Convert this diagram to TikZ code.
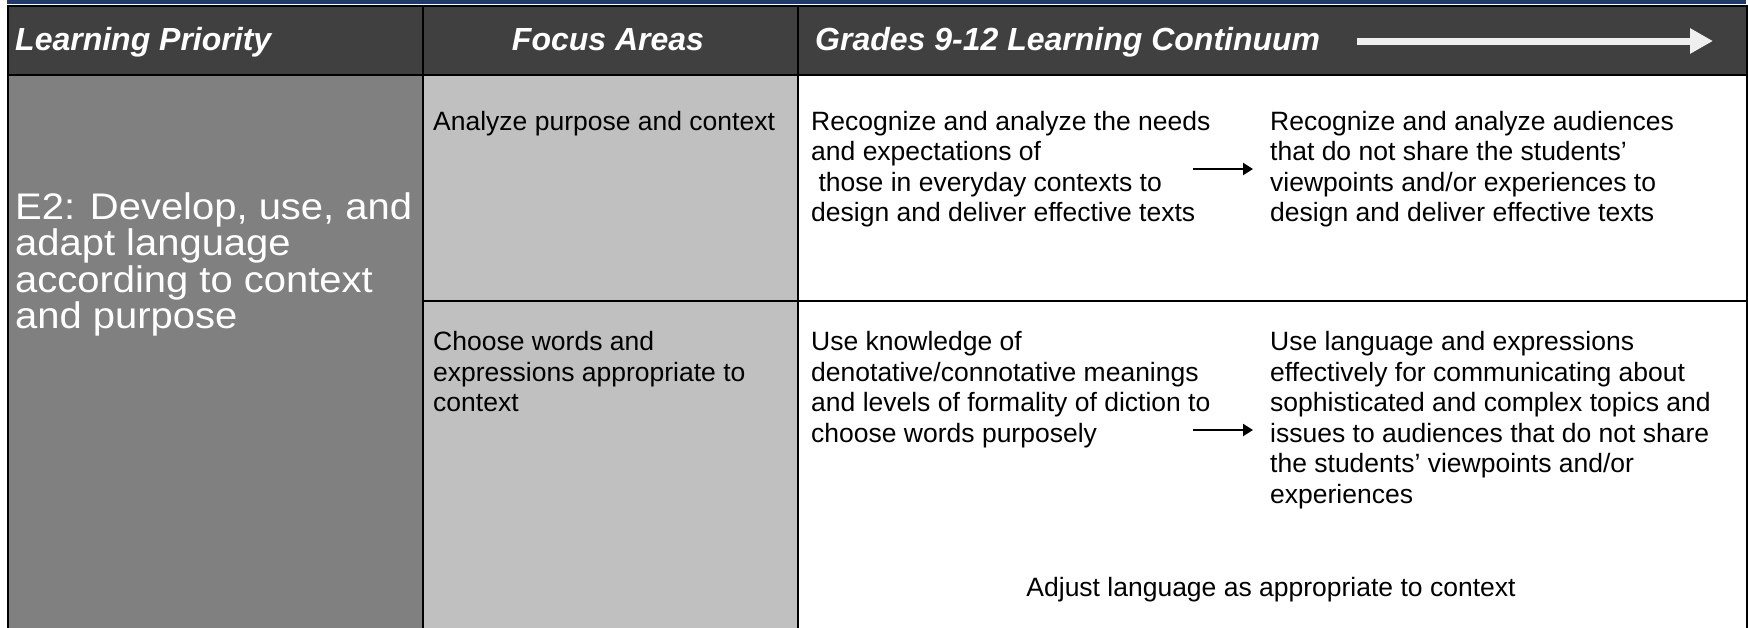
\documentclass[tikz,border=0pt]{standalone}
\usepackage{fontspec}
\setmainfont{Liberation Sans}
\newfontfamily\prifont[FakeStretch=1.08]{Liberation Sans}
\usetikzlibrary{arrows.meta}
\definecolor{hdrgray}{HTML}{404040}
\definecolor{prigray}{HTML}{808080}
\definecolor{focgray}{HTML}{C0C0C0}
\definecolor{topblue}{RGB}{31,57,107}
\definecolor{harrow}{HTML}{EFEFEF}
\begin{document}
\begin{tikzpicture}[x=1pt,y=-1pt,
  cell/.style={rectangle,draw=black,line width=2pt,inner sep=0pt,anchor=north west},
  hdrtext/.style={text=white,font=\fontsize{32}{36}\selectfont\bfseries\itshape,inner sep=0pt},
  body/.style={anchor=north west,inner sep=0pt,align=left,font=\fontsize{26.5}{30.5}\selectfont},
  pritext/.style={anchor=north west,inner sep=0pt,align=left,text=white,font=\prifont\fontsize{37}{36.5}\selectfont},
  hdrarrow/.style={draw=harrow,line width=7pt,-{Triangle[length=23pt,width=24pt]}},
  flowarrow/.style={draw=black,line width=2.2pt,-{Triangle[length=10pt,width=12pt]}}
]
\useasboundingbox (0,0) rectangle (1748,627);
\fill[topblue] (7,0) rectangle (1746,4);
% header cells
\node[cell,fill=hdrgray,minimum width=415pt,minimum height=69pt] (h1) at (7,4.5) {};
\node[cell,fill=hdrgray,minimum width=375pt,minimum height=69pt] (h2) at (422,4.5) {};
\node[cell,fill=hdrgray,minimum width=949pt,minimum height=69pt] (h3) at (797,4.5) {};
% body cells
\node[cell,fill=prigray,minimum width=415pt,minimum height=560pt] (pri) at (7,73.5) {};
\node[cell,fill=focgray,minimum width=375pt,minimum height=226.5pt] (foc1) at (422,73.5) {};
\node[cell,fill=focgray,minimum width=375pt,minimum height=333pt] (foc2) at (422,300) {};
\node[cell,fill=white,minimum width=949pt,minimum height=226.5pt] (con1) at (797,73.5) {};
\node[cell,fill=white,minimum width=949pt,minimum height=333pt] (con2) at (797,300) {};
% header texts
\node[hdrtext,anchor=base west] (t1) at (15,50.5) {Learning Priority};
\node[hdrtext,anchor=base] (t2) at (608,50.5) {Focus Areas};
\node[hdrtext,anchor=base west] (t3) at (815,50.5) {Grades 9-12 Learning Continuum};
\coordinate (ha1) at (1357,41);
\coordinate (ha2) at (1713,41);
\draw[hdrarrow] (ha1) -- (ha2);
% learning priority
\node[pritext] (p1) at (15,192) {E2: Develop, use, and\\adapt language\\according to context\\and purpose};
% focus areas
\node[body] (f1) at (433,111) {Analyze purpose and context};
\node[body] (f2) at (433,331.5) {Choose words and\\expressions appropriate to\\context};
% row 1
\node[body] (r1a) at (811,111) {Recognize and analyze the needs\\and expectations of\\\hspace*{.28em}those in everyday contexts to\\design and deliver effective texts};
\node[body] (r1b) at (1270,111) {Recognize and analyze audiences\\that do not share the students’\\viewpoints and/or experiences to\\design and deliver effective texts};
\coordinate (a1s) at (1193,169);
\coordinate (a1e) at (1253,169);
\draw[flowarrow] (a1s) -- (a1e);
% row 2
\node[body] (r2a) at (811,331.5) {Use knowledge of\\denotative/connotative meanings\\and levels of formality of diction to\\choose words purposely};
\node[body] (r2b) at (1270,331.5) {Use language and expressions\\effectively for communicating about\\sophisticated and complex topics and\\issues to audiences that do not share\\the students’ viewpoints and/or\\experiences};
\coordinate (a2s) at (1193,430);
\coordinate (a2e) at (1253,430);
\draw[flowarrow] (a2s) -- (a2e);
\node[anchor=base,inner sep=0pt,font=\fontsize{26.5}{30.5}\selectfont] (adj) at (1271,596) {Adjust language as appropriate to context};
\end{tikzpicture}
\end{document}
